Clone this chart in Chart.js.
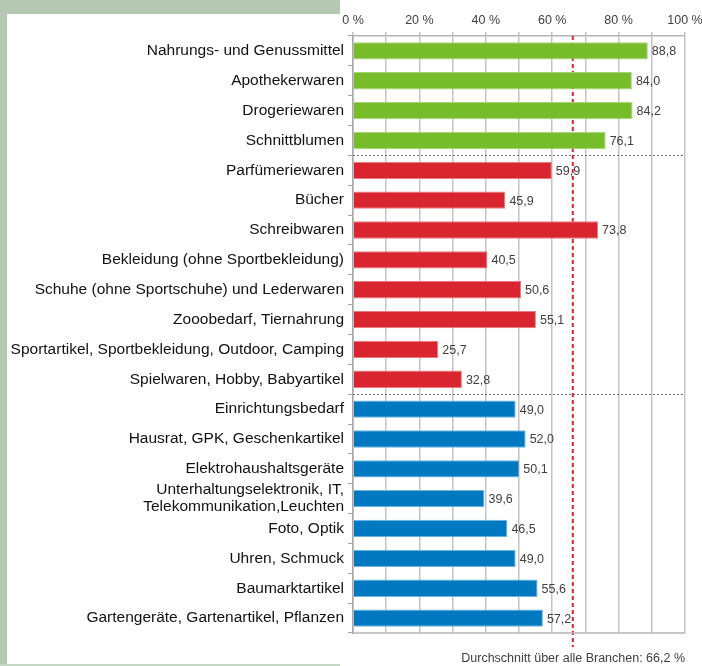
<!DOCTYPE html>
<html>
<head>
<meta charset="utf-8">
<script src="https://cdn.jsdelivr.net/npm/chart.js@4"></script>
<style>
    html, body { margin: 0; padding: 0; background: #ffffff; }
    #wrap { position: relative; width: 702px; height: 666px; overflow: hidden; }
    .frame { position: absolute; background: #b4c8b2; }
    #chart { position: absolute; left: 0; top: 0; }
</style>
</head>
<body>
<div id="wrap">
    <div class="frame" style="left:0;top:0;width:340px;height:14px;"></div>
    <div class="frame" style="left:0;top:0;width:7px;height:666px;"></div>
    <div class="frame" style="left:0;top:664px;width:340px;height:2px;background:#c5d6c4;"></div>
    <canvas id="chart" width="702" height="666"></canvas>
</div>
<script>
// Branchen (Kategorien)
const categories = [
    'Nahrungs- und Genussmittel',
    'Apothekerwaren',
    'Drogeriewaren',
    'Schnittblumen',
    'Parfümeriewaren',
    'Bücher',
    'Schreibwaren',
    'Bekleidung (ohne Sportbekleidung)',
    'Schuhe (ohne Sportschuhe) und Lederwaren',
    'Zooobedarf, Tiernahrung',
    'Sportartikel, Sportbekleidung, Outdoor, Camping',
    'Spielwaren, Hobby, Babyartikel',
    'Einrichtungsbedarf',
    'Hausrat, GPK, Geschenkartikel',
    'Elektrohaushaltsgeräte',
    ['Unterhaltungselektronik, IT,', 'Telekommunikation,Leuchten'],
    'Foto, Optik',
    'Uhren, Schmuck',
    'Baumarktartikel',
    'Gartengeräte, Gartenartikel, Pflanzen'
];

// Werte in %
const values = [88.8, 84.0, 84.2, 76.1, 59.9, 45.9, 73.8, 40.5, 50.6, 55.1, 25.7, 32.8, 49.0, 52.0, 50.1, 39.6, 46.5, 49.0, 55.6, 57.2];

// Gruppengrößen
const groupSizes = [4, 8, 8];

// Achsenbeschriftung
const tickLabels = ['0 %', '20 %', '40 %', '60 %', '80 %', '100 %'];

// Durchschnitt über alle Branchen
const average = 66.2;

const groupColors = ['#77bc2b', '#d9252f', '#0079c1'];
const groupBorders = ['#a6d574', '#ea7a80', '#6fb6e3'];

const barColors = [];
const barBorders = [];
groupSizes.forEach((n, g) => {
    for (let i = 0; i < n; i++) {
        barColors.push(groupColors[g]);
        barBorders.push(groupBorders[g]);
    }
});

function fmt(v) {
    return v.toFixed(1).replace('.', ',');
}

const labelFont = "'Liberation Sans', Arial, sans-serif";

// Trennlinien, Durchschnittslinie, Werte
const extras = {
    id: 'extras',
    beforeDatasetsDraw(chart) {
        const ctx = chart.ctx;
        const area = chart.chartArea;
        const x = chart.scales.x;
        const y = chart.scales.y;
        ctx.save();

        // gepunktete Gruppentrenner
        ctx.strokeStyle = '#6e6e6e';
        ctx.lineWidth = 1;
        ctx.setLineDash([2, 2]);
        let idx = 0;
        groupSizes.slice(0, -1).forEach(n => {
            idx += n;
            const yy = Math.round((y.getPixelForValue(idx - 1) + y.getPixelForValue(idx)) / 2) + 0.5;
            ctx.beginPath();
            ctx.moveTo(area.left, yy);
            ctx.lineTo(area.right, yy);
            ctx.stroke();
        });

        // Durchschnitt
        const ax = x.getPixelForValue(average);
        ctx.strokeStyle = '#e2202b';
        ctx.lineWidth = 2;
        ctx.setLineDash([4, 3]);
        ctx.beginPath();
        ctx.moveTo(ax, area.top);
        ctx.lineTo(ax, area.bottom + 14);
        ctx.stroke();
        ctx.restore();
    },
    afterDatasetsDraw(chart) {
        const ctx = chart.ctx;
        const area = chart.chartArea;
        ctx.save();

        // untere Achsenlinie
        ctx.strokeStyle = '#b4b4b4';
        ctx.lineWidth = 1.5;
        ctx.beginPath();
        ctx.moveTo(area.left, area.bottom);
        ctx.lineTo(area.right, area.bottom);
        ctx.stroke();

        // Datenbeschriftung
        ctx.font = '12.5px ' + labelFont;
        ctx.fillStyle = '#404040';
        ctx.textAlign = 'left';
        ctx.textBaseline = 'middle';
        chart.getDatasetMeta(0).data.forEach((bar, i) => {
            ctx.fillText(fmt(values[i]), bar.x + 4, bar.y + 1);
        });

        // Fußnote
        ctx.textAlign = 'right';
        ctx.font = '12.5px ' + labelFont;
        ctx.fillText('Durchschnitt über alle Branchen: ' + fmt(average) + ' %', area.right, 659);
        ctx.restore();
    }
};

const ctx = document.getElementById('chart').getContext('2d');
const chart = new Chart(ctx, {
    type: 'bar',
    data: {
        labels: categories,
        datasets: [{
            data: values,
            backgroundColor: barColors,
            borderColor: barBorders,
            borderWidth: 1,
            barPercentage: 0.58,
            categoryPercentage: 1.0
        }]
    },
    options: {
        indexAxis: 'y',
        responsive: false,
        animation: false,
        devicePixelRatio: 1,
        layout: {
            padding: { left: 0, right: 17, top: 0, bottom: 33 }
        },
        plugins: {
            legend: { display: false },
            tooltip: { enabled: false }
        },
        scales: {
            x: {
                position: 'top',
                min: 0,
                max: 100,
                afterFit: function(scale) {
                    scale.height = 36;
                    scale.paddingLeft = 0;
                    scale.paddingRight = 0;
                },
                ticks: {
                    stepSize: 10,
                    autoSkip: false,
                    maxRotation: 0,
                    padding: 4,
                    color: '#404040',
                    font: { family: labelFont, size: 12.5 },
                    callback: function(value) {
                        return value % 20 === 0 ? tickLabels[value / 20] : '';
                    }
                },
                grid: {
                    color: '#c4c4c4',
                    lineWidth: 1.5,
                    tickLength: 4
                },
                border: { display: true, color: '#b4b4b4', width: 1.5 }
            },
            y: {
                afterFit: function(scale) {
                    scale.width = 353;
                },
                ticks: {
                    autoSkip: false,
                    padding: 4,
                    color: '#111111',
                    font: { family: labelFont, size: 15.5, lineHeight: 1.1 }
                },
                grid: {
                    drawOnChartArea: false,
                    color: '#a8a8a8',
                    lineWidth: 1,
                    tickLength: 5
                },
                border: { display: true, color: '#a8a8a8', width: 1.5 }
            }
        }
    },
    plugins: [extras]
});
</script>
</body>
</html>
